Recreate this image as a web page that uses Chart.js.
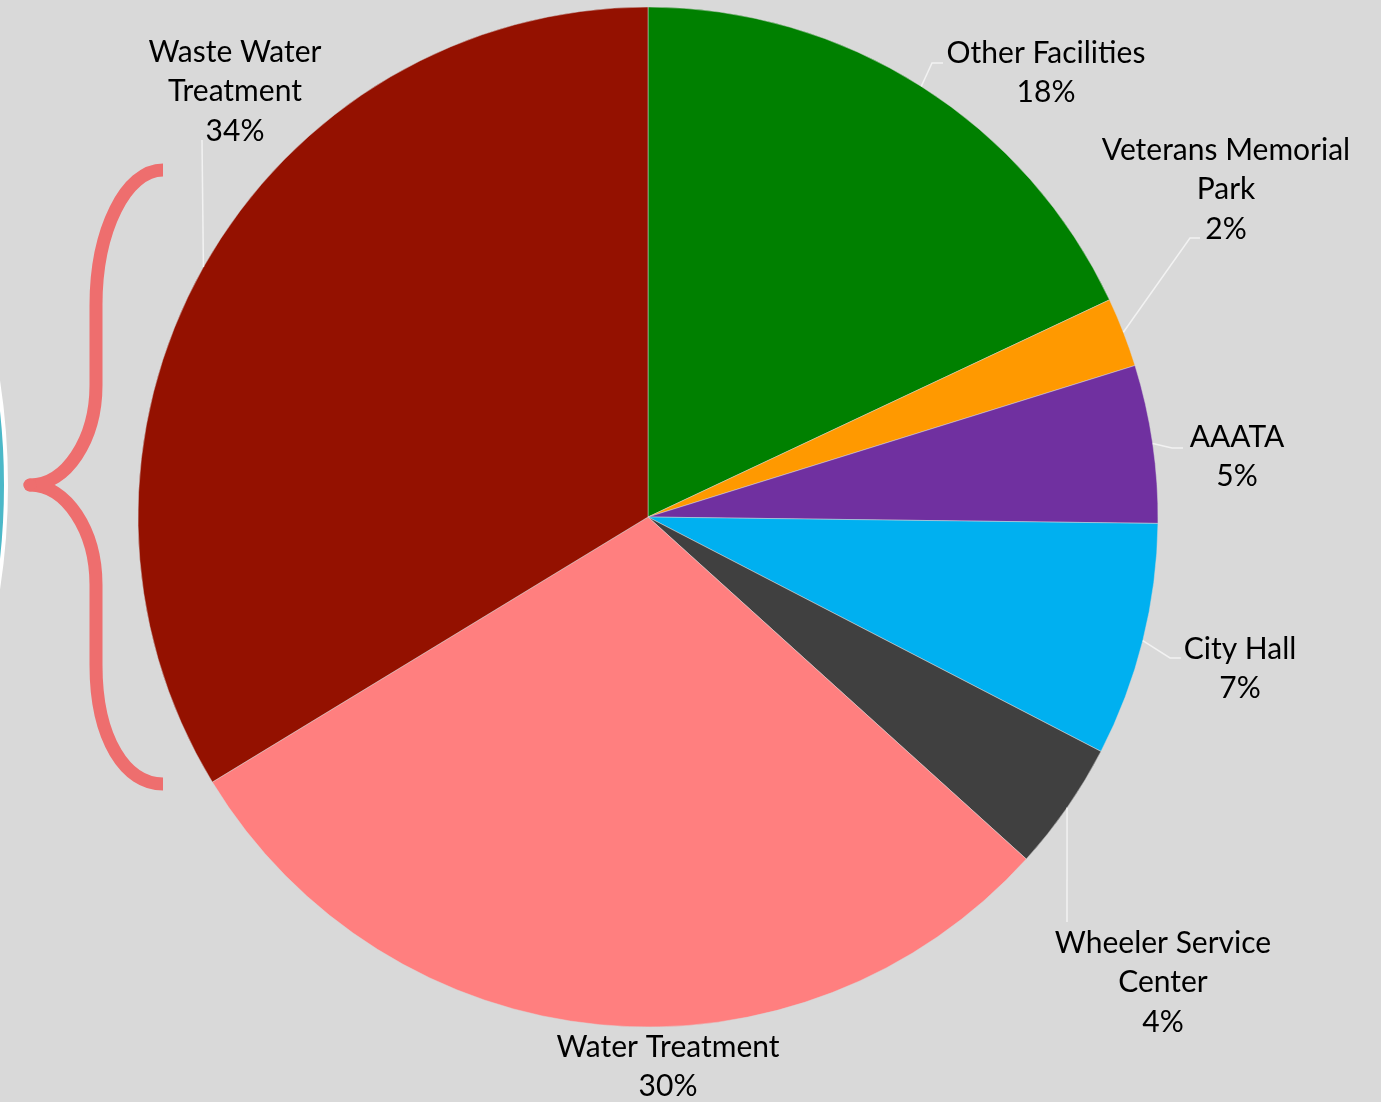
<!DOCTYPE html>
<html>
<head>
<meta charset="utf-8">
<title>Energy use by facility</title>
<script src="https://cdn.jsdelivr.net/npm/chart.js@4/dist/chart.umd.min.js"></script>
<style>
    html, body { margin: 0; padding: 0; background: #D9D9D9; overflow: hidden; }
    #wrap { width: 1381px; height: 1102px; }
</style>
</head>
<body>
<div id="wrap"><canvas id="myChart" width="1381" height="1102"></canvas></div>
<script>
// Data (share of total, %)
const facilities = ['Other Facilities', 'Veterans Memorial Park', 'AAATA', 'City Hall',
    'Wheeler Service Center', 'Water Treatment', 'Waste Water Treatment'];
const shares = [18, 2.2, 5, 7.4, 4.1, 29.6, 33.7];
const sliceColors = ['#008000', '#FF9900', '#7030A0', '#00B0F0', '#404040', '#FF7F7F', '#941100'];

// How each label is broken into lines
const labelLines = [
    ['Other Facilities'],
    ['Veterans Memorial', 'Park'],
    ['AAATA'],
    ['City Hall'],
    ['Wheeler Service', 'Center'],
    ['Water Treatment'],
    ['Waste Water', 'Treatment']
];

// Label placement (text centre x, first line y) and leader bends
const labelLayout = [
    { x: 1046, y: 53, bends: [[932, 63], [943, 63]] },
    { x: 1226, y: 150, bends: [[1190, 238], [1200, 238]] },
    { x: 1237, y: 437, bends: [[1172, 448], [1183, 448]] },
    { x: 1240, y: 649, bends: [[1170, 658], [1181, 658]] },
    { x: 1163, y: 943, bends: [[1067, 922]] },
    { x: 668, y: 1047, bends: null },
    { x: 235, y: 52, bends: [[202, 140]] }
];

const total = shares.reduce((a, b) => a + b, 0);

// Draws the teal circle edge and the curly brace behind the pie
const decorations = {
    id: 'decorations',
    beforeDatasetsDraw(chart) {
        const c = chart.ctx;
        c.save();
        // big circle mostly off the left edge
        c.beginPath();
        c.arc(-672, 485, 678, 0, Math.PI * 2);
        c.fillStyle = '#4BB8C8';
        c.fill();
        c.lineWidth = 4;
        c.strokeStyle = '#FFFFFF';
        c.stroke();

        // the brace
        c.beginPath();
        c.moveTo(163, 170);
        c.bezierCurveTo(126, 170, 96, 230, 96, 305);
        c.lineTo(96, 385);
        c.bezierCurveTo(96, 440, 66, 485, 30, 485);
        c.bezierCurveTo(66, 485, 96, 530, 96, 585);
        c.lineTo(96, 665);
        c.bezierCurveTo(96, 740, 126, 784, 163, 784);
        c.lineWidth = 13;
        c.lineCap = 'butt';
        c.lineJoin = 'round';
        c.strokeStyle = '#EE6E6E';
        c.stroke();
        // rounded tip
        c.beginPath();
        c.arc(30, 485, 6.5, 0, Math.PI * 2);
        c.fillStyle = '#EE6E6E';
        c.fill();
        c.restore();
    }
};

// Outside labels with leader lines
const outsideLabels = {
    id: 'outsideLabels',
    afterDatasetsDraw(chart) {
        const c = chart.ctx;
        const arcs = chart.getDatasetMeta(0).data;
        c.save();
        arcs.forEach((arc, i) => {
            const lay = labelLayout[i];
            const mid = (arc.startAngle + arc.endAngle) / 2;
            const ex = arc.x + Math.cos(mid) * arc.outerRadius;
            const ey = arc.y + Math.sin(mid) * arc.outerRadius;
            if (lay.bends) {
                c.beginPath();
                c.moveTo(ex, ey);
                lay.bends.forEach(p => c.lineTo(p[0], p[1]));
                c.lineWidth = 1.5;
                c.strokeStyle = '#F2F2F2';
                c.stroke();
            }
            const lines = labelLines[i].concat([Math.round(shares[i] / total * 100) + '%']);
            c.fillStyle = '#000000';
            c.font = '30px Lato, "Open Sans", sans-serif';
            c.textAlign = 'center';
            c.textBaseline = 'middle';
            lines.forEach((t, k) => c.fillText(t, lay.x, lay.y + k * 39.5));
        });
        c.restore();
    }
};

const ctx = document.getElementById('myChart');
new Chart(ctx, {
    type: 'pie',
    data: {
        labels: facilities,
        datasets: [{
            data: shares,
            backgroundColor: sliceColors,
            borderColor: 'rgba(217,217,217,0.6)',
            borderWidth: 0.8,
            radius: 510
        }]
    },
    options: {
        responsive: false,
        animation: false,
        layout: {
            padding: { left: 138, right: 223, top: 7, bottom: 75 }
        },
        plugins: {
            legend: { display: false },
            tooltip: { enabled: false }
        }
    },
    plugins: [decorations, outsideLabels]
});
</script>
</body>
</html>
